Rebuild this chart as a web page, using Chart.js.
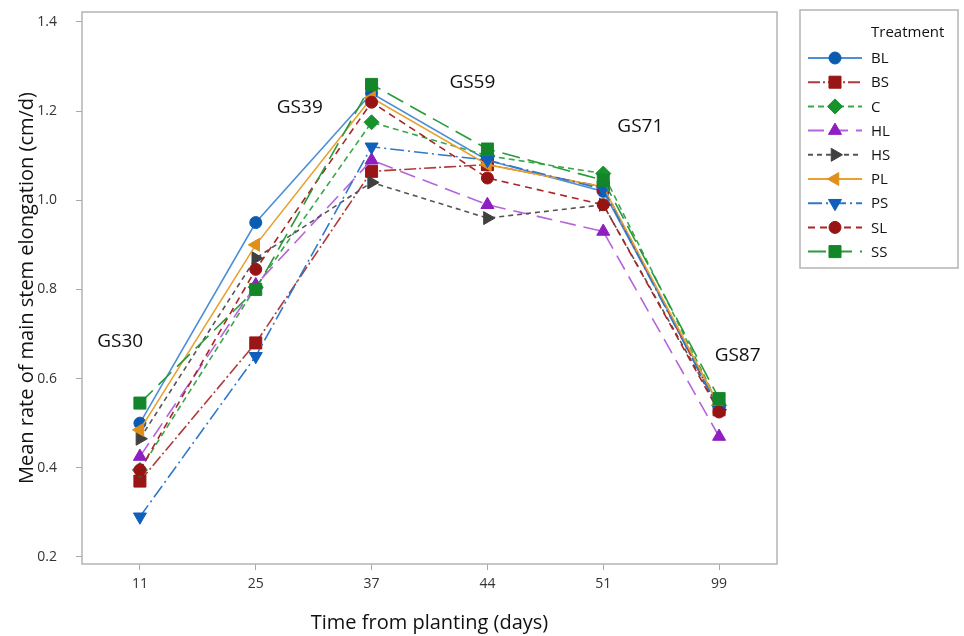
<!DOCTYPE html>
<html>
<head>
<meta charset="utf-8">
<script src="https://cdn.jsdelivr.net/npm/chart.js@4.4.0/dist/chart.umd.min.js"></script>
<style>
  body { margin: 0; background: #fff; }
  canvas { display: block; }
</style>
</head>
<body>
<canvas id="elongation" width="964" height="636"></canvas>
<script>
var days = ['11', '25', '37', '44', '51', '99'];
var yTicks = [0.2, 0.4, 0.6, 0.8, 1.0, 1.2, 1.4];

var BL = [0.50, 0.95, 1.24, 1.09, 1.02, 0.54];
var BS = [0.37, 0.68, 1.065, 1.08, 1.03, 0.53];
var C  = [0.395, 0.805, 1.175, 1.10, 1.06, 0.54];
var HL = [0.425, 0.81, 1.09, 0.99, 0.93, 0.47];
var HS = [0.465, 0.87, 1.04, 0.96, 0.99, 0.53];
var PL = [0.485, 0.90, 1.23, 1.08, 1.03, 0.54];
var PS = [0.29, 0.65, 1.12, 1.09, 1.025, 0.53];
var SL = [0.395, 0.845, 1.22, 1.05, 0.99, 0.525];
var SS = [0.545, 0.80, 1.26, 1.115, 1.045, 0.555];

// growth stage labels, anchored in (category index, value) units
var stages = ['GS30', 'GS39', 'GS59', 'GS71', 'GS87'];
var stageAt = [[-0.17, 0.683], [1.38, 1.207], [2.87, 1.265], [4.32, 1.165], [5.16, 0.651]];

var FONT = '"Open Sans", "Noto Sans", sans-serif';

function series(label, values, line, marker, dash, style, rotation, radius, order) {
    return {
        label: label,
        data: values,
        borderColor: line,
        backgroundColor: marker,
        pointBackgroundColor: marker,
        pointBorderColor: marker,
        borderWidth: 1.6,
        borderDash: dash,
        pointStyle: style,
        rotation: rotation,
        pointRadius: radius,
        pointHoverRadius: radius,
        pointBorderWidth: 1,
        tension: 0,
        fill: false,
        order: order
    };
}

// later treatments sit on top, as in the original plot
var datasets = [
    series('BL', BL, '#4d8fd6', '#0b5cb0', [], 'circle', 0, 6, 9),
    series('BS', BS, '#b03a3a', '#9a1515', [12, 3, 2, 3], 'rect', 0, 8.5, 8),
    series('C',  C,  '#3aa84a', '#17922c', [6, 4], 'rectRot', 0, 7.5, 7),
    series('HL', HL, '#b565dc', '#8e1fc0', [16, 8], 'triangle', 0, 7.5, 6),
    series('HS', HS, '#555555', '#404040', [5, 4], 'triangle', 90, 7.5, 5),
    series('PL', PL, '#e8a030', '#e0901a', [], 'triangle', -90, 7.5, 4),
    series('PS', PS, '#2f78cc', '#0f5fbd', [14, 4, 2, 4], 'triangle', 180, 7.5, 3),
    series('SL', SL, '#a82626', '#961414', [7, 5], 'circle', 0, 6, 2),
    series('SS', SS, '#2a9a3a', '#14862a', [18, 8], 'rect', 0, 8.5, 1)
];

var framePlugin = {
    id: 'frame',
    beforeDatasetsDraw: function (chart) {
        var a = chart.chartArea, ctx = chart.ctx;
        ctx.save();
        ctx.strokeStyle = '#b4b4b4';
        ctx.lineWidth = 1.5;
        ctx.strokeRect(a.left, a.top, a.right - a.left, a.bottom - a.top);
        ctx.restore();
    },
    afterDatasetsDraw: function (chart) {
        var ctx = chart.ctx, xs = chart.scales.x, ys = chart.scales.y;
        ctx.save();
        ctx.fillStyle = '#111';
        ctx.font = '19px ' + FONT;
        ctx.textAlign = 'center';
        ctx.textBaseline = 'middle';
        for (var i = 0; i < stages.length; i++) {
            ctx.fillText(stages[i], xs.getPixelForValue(stageAt[i][0]), ys.getPixelForValue(stageAt[i][1]));
        }
        ctx.restore();
    },
    afterDraw: function (chart) {
        var ctx = chart.ctx;
        var bx = 800, by = 10, bw = 158, bh = 258;
        ctx.save();
        ctx.strokeStyle = '#b4b4b4';
        ctx.lineWidth = 1.5;
        ctx.strokeRect(bx, by, bw, bh);
        ctx.fillStyle = '#111';
        ctx.font = '15px ' + FONT;
        ctx.textAlign = 'left';
        ctx.textBaseline = 'middle';
        ctx.fillText('Treatment', 871, 33);
        chart.data.datasets.forEach(function (ds, i) {
            var y = 58 + i * 24.2;
            ctx.save();
            ctx.strokeStyle = ds.borderColor;
            ctx.lineWidth = 2;
            ctx.setLineDash(ds.borderDash);
            ctx.beginPath();
            ctx.moveTo(808, y);
            ctx.lineTo(862, y);
            ctx.stroke();
            ctx.restore();
            ctx.fillStyle = ds.pointBackgroundColor;
            ctx.strokeStyle = ds.pointBorderColor;
            ctx.lineWidth = 1;
            Chart.helpers.drawPoint(ctx, {
                pointStyle: ds.pointStyle,
                rotation: ds.rotation,
                radius: ds.pointRadius,
                borderWidth: 1
            }, 835, y);
            ctx.fillStyle = '#111';
            ctx.fillText(ds.label, 871, y + 1);
        });
        ctx.restore();
    }
};

var chart = new Chart(document.getElementById('elongation').getContext('2d'), {
    type: 'line',
    data: { labels: days, datasets: datasets },
    options: {
        responsive: false,
        devicePixelRatio: 1,
        animation: false,
        layout: { padding: { left: 0, top: 12, right: 187, bottom: 0 } },
        plugins: { legend: { display: false }, tooltip: { enabled: false } },
        scales: {
            x: {
                type: 'category',
                offset: true,
                grid: { display: true, drawOnChartArea: false, drawTicks: true, tickLength: 6, color: '#a8a8a8' },
                border: { display: false },
                ticks: { color: '#333', font: { family: FONT, size: 14 }, padding: 6 },
                title: { display: true, text: 'Time from planting (days)', color: '#111',
                         font: { family: FONT, size: 20 }, padding: { top: 0, bottom: 1 } },
                afterFit: function (s) { s.height = 72; s.paddingLeft = 0; s.paddingRight = 0; }
            },
            y: {
                min: 0.184,
                max: 1.4224,
                grid: { display: true, drawOnChartArea: false, drawTicks: true, tickLength: 6, color: '#a8a8a8' },
                border: { display: false },
                ticks: { color: '#333', font: { family: FONT, size: 14 }, padding: 19,
                         callback: function (v) { return Number(v).toFixed(1); } },
                afterBuildTicks: function (s) { s.ticks = yTicks.map(function (v) { return { value: v }; }); },
                title: { display: true, text: 'Mean rate of main stem elongation (cm/d)', color: '#111',
                         font: { family: FONT, size: 20 }, padding: { top: 15, bottom: 0 } },
                afterFit: function (s) { s.width = 82; s.paddingTop = 0; s.paddingBottom = 0; }
            }
        }
    },
    plugins: [framePlugin]
});
</script>
</body>
</html>
